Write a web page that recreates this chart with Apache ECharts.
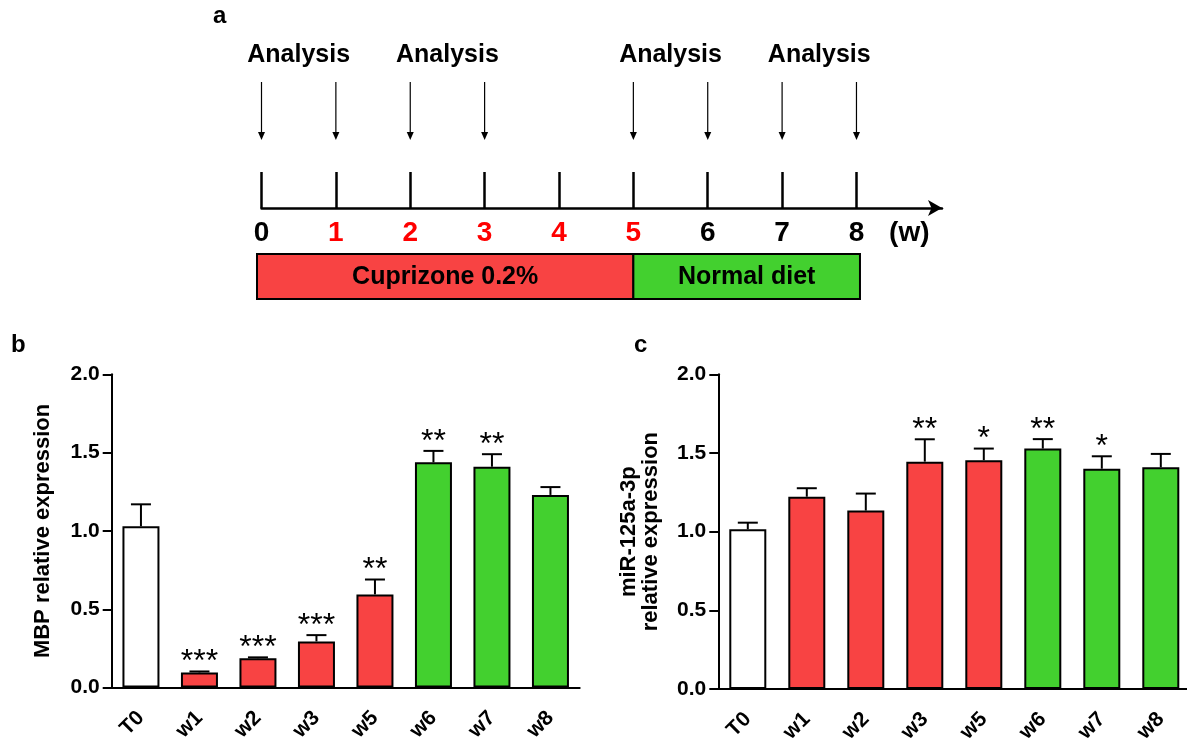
<!DOCTYPE html>
<html><head><meta charset="utf-8">
<script src="https://cdn.jsdelivr.net/npm/echarts@6/dist/echarts.min.js"></script>
<style>html,body{margin:0;padding:0;background:#fff}#chart{width:1187px;height:742px}</style>
</head><body><div id="chart"></div>
<script>
// ---------- data ----------
const categories = ['T0', 'w1', 'w2', 'w3', 'w5', 'w6', 'w7', 'w8'];
const groups = ['control', 'cuprizone', 'cuprizone', 'cuprizone', 'cuprizone', 'normal', 'normal', 'normal'];
const mbpMean = [1.03, 0.097, 0.188, 0.295, 0.595, 1.438, 1.41, 1.23];
const mbpErr = [0.14, 0.006, 0.005, 0.04, 0.095, 0.073, 0.08, 0.05];
const mbpStars = ['', '***', '***', '***', '**', '**', '**', ''];
const mirMean = [1.015, 1.222, 1.134, 1.445, 1.454, 1.528, 1.40, 1.409];
const mirErr = [0.042, 0.054, 0.108, 0.142, 0.074, 0.06, 0.079, 0.085];
const mirStars = ['', '', '', '**', '*', '**', '*', ''];
const yMin = 0, yMax = 2, yStep = 0.5;
const mbpTitle = 'MBP relative expression';
const mirTitle = 'miR-125a-3p\nrelative expression';
const timelineWeeks = [0, 1, 2, 3, 4, 5, 6, 7, 8];
const cuprizoneWeeks = [1, 2, 3, 4, 5];
const analysisWeeks = [0, 1, 2, 3, 5, 6, 7, 8];
const analysisPairs = [[0, 1], [2, 3], [5, 6], [7, 8]];
const analysisText = 'Analysis';
const phaseNames = ['Cuprizone 0.2%', 'Normal diet'];
const phaseStart = [0, 5];
const phaseEnd = [5, 8];
const phaseGroups = ['cuprizone', 'normal'];
const unitText = '(w)';
const panelLetters = ['a', 'b', 'c'];

// ---------- style ----------
const FONT = '"Liberation Sans", Arial, sans-serif';
const groupColors = { control: '#ffffff', cuprizone: '#F84343', normal: '#43D02F' };
const UNIT_POS = 8.71;

const chart = echarts.init(document.getElementById('chart'), null, { renderer: 'canvas' });

function catAxis(g) {
  return {
    type: 'category', gridIndex: g, data: categories,
    axisLine: { lineStyle: { color: '#000', width: 2 } },
    axisTick: { alignWithLabel: true, length: 9, lineStyle: { color: '#000', width: 2 } },
    axisLabel: { rotate: 45, margin: 27, color: '#000', fontSize: 21, fontWeight: 'bold', fontFamily: FONT },
    splitLine: { show: false }
  };
}
function valAxis(g, name, gap) {
  return {
    type: 'value', gridIndex: g, min: yMin, max: yMax, interval: yStep,
    axisLine: { show: true, lineStyle: { color: '#000', width: 2 } },
    axisTick: { show: true, length: 9, lineStyle: { color: '#000', width: 2 } },
    axisLabel: { margin: 12, color: '#000', fontSize: 21, fontWeight: 'bold', fontFamily: FONT, formatter: v => v.toFixed(1) },
    splitLine: { show: false },
    name: name, nameLocation: 'middle', nameGap: gap,
    nameTextStyle: { color: '#000', fontSize: 22, fontWeight: 'bold', fontFamily: FONT, lineHeight: 22, align: 'center' }
  };
}
function barSeries(g, means, bw) {
  return {
    type: 'bar', xAxisIndex: g, yAxisIndex: g, barWidth: bw, silent: true, z: 2,
    data: means.map((v, i) => ({ value: v, itemStyle: { color: groupColors[groups[i]] } })),
    itemStyle: { borderColor: '#000', borderWidth: 2 }
  };
}
function errSeries(g, means, errs, stars) {
  return {
    type: 'custom', xAxisIndex: g, yAxisIndex: g, silent: true, z: 3,
    data: means.map((m, i) => [i, m, errs[i]]),
    renderItem(params, api) {
      const i = api.value(0), m = api.value(1), e = api.value(2);
      const b = api.coord([i, m]), t = api.coord([i, m + e]);
      const ch = [
        { type: 'line', shape: { x1: b[0], y1: b[1], x2: t[0], y2: t[1] }, style: { stroke: '#000', lineWidth: 2 } },
        { type: 'line', shape: { x1: t[0] - 10, y1: t[1], x2: t[0] + 10, y2: t[1] }, style: { stroke: '#000', lineWidth: 2 } }
      ];
      const s = stars[params.dataIndex];
      if (s) ch.push({ type: 'text', x: t[0], y: t[1] - 9, style: { text: s, font: 'normal 32px ' + FONT, fill: '#000', align: 'center', verticalAlign: 'middle' } });
      return { type: 'group', children: ch };
    }
  };
}

const option = {
  animation: false,
  backgroundColor: '#fff',
  grid: [
    { left: 111.7, top: 374.3, width: 468, height: 313.3, outerBoundsMode: 'none', containLabel: false },
    { left: 718.3, top: 374.3, width: 472, height: 314.7, outerBoundsMode: 'none', containLabel: false },
    { left: 261.5, top: 100, width: 680.5, height: 108, outerBoundsMode: 'none', containLabel: false }
  ],
  xAxis: [
    catAxis(0), catAxis(1),
    {
      type: 'value', gridIndex: 2, min: 0, max: 9.15,
      axisLine: { show: true, symbol: ['none', 'arrow'], symbolSize: [12, 14], lineStyle: { color: '#000', width: 2.5 } },
      axisTick: { show: true, inside: true, length: 36, customValues: timelineWeeks, lineStyle: { color: '#000', width: 2.5 } },
      axisLabel: {
        show: true, margin: 11, customValues: timelineWeeks.concat([UNIT_POS]),
        formatter: v => v === UNIT_POS ? '{k|' + unitText + '}' : (cuprizoneWeeks.indexOf(v) >= 0 ? '{r|' + v + '}' : '{k|' + v + '}'),
        rich: {
          r: { color: '#FF0000', fontSize: 28, fontWeight: 'bold', fontFamily: FONT },
          k: { color: '#000', fontSize: 28, fontWeight: 'bold', fontFamily: FONT }
        }
      },
      splitLine: { show: false }
    }
  ],
  yAxis: [
    valAxis(0, mbpTitle, 58),
    valAxis(1, mirTitle, 56),
    { type: 'value', gridIndex: 2, min: 0, max: 1, show: false }
  ],
  graphic: [
    { type: 'text', left: 213, top: 4, style: { text: panelLetters[0], font: 'bold 24px ' + FONT, fill: '#000' } },
    { type: 'text', left: 11, top: 333, style: { text: panelLetters[1], font: 'bold 24px ' + FONT, fill: '#000' } },
    { type: 'text', left: 634, top: 333, style: { text: panelLetters[2], font: 'bold 24px ' + FONT, fill: '#000' } }
  ],
  series: [
    barSeries(0, mbpMean, 37),
    errSeries(0, mbpMean, mbpErr, mbpStars),
    barSeries(1, mirMean, 37),
    errSeries(1, mirMean, mirErr, mirStars),
    // analysis arrows
    {
      type: 'custom', xAxisIndex: 2, yAxisIndex: 2, silent: true,
      data: analysisWeeks.map(w => [w, 0]),
      renderItem(params, api) {
        const p = api.coord([api.value(0), 0]);
        const x = p[0], y = p[1];
        return { type: 'group', children: [
          { type: 'line', shape: { x1: x, y1: y - 126, x2: x, y2: y - 74 }, style: { stroke: '#000', lineWidth: 1.2 } },
          { type: 'polygon', shape: { points: [[x - 3.5, y - 76], [x + 3.5, y - 76], [x, y - 68]] }, style: { fill: '#000' } }
        ] };
      }
    },
    // analysis labels
    {
      type: 'custom', xAxisIndex: 2, yAxisIndex: 2, silent: true,
      data: analysisPairs.map(p => [p[0], p[1]]),
      renderItem(params, api) {
        const a = api.coord([api.value(0), 0]), b = api.coord([api.value(1), 0]);
        return { type: 'text', x: (a[0] + b[0]) / 2, y: a[1] - 153,
          style: { text: analysisText, font: 'bold 25px ' + FONT, fill: '#000', align: 'center', verticalAlign: 'middle' } };
      }
    },
    // phase boxes
    {
      type: 'custom', xAxisIndex: 2, yAxisIndex: 2, silent: true,
      data: phaseNames.map((n, i) => [phaseStart[i], phaseEnd[i]]),
      renderItem(params, api) {
        const i = params.dataIndex, last = phaseNames.length - 1;
        const a = api.coord([api.value(0), 0]), b = api.coord([api.value(1), 0]);
        const x1 = a[0] - (i === 0 ? 4.5 : 0), x2 = b[0] + (i === last ? 3.5 : 0);
        const y = a[1];
        return { type: 'group', children: [
          { type: 'rect', shape: { x: x1, y: y + 46, width: x2 - x1, height: 45 }, style: { fill: groupColors[phaseGroups[i]], stroke: '#000', lineWidth: 2 } },
          { type: 'text', x: (x1 + x2) / 2, y: y + 69, style: { text: phaseNames[i], font: 'bold 25px ' + FONT, fill: '#000', align: 'center', verticalAlign: 'middle' } }
        ] };
      }
    }
  ]
};
chart.setOption(option);
</script>
</body></html>
